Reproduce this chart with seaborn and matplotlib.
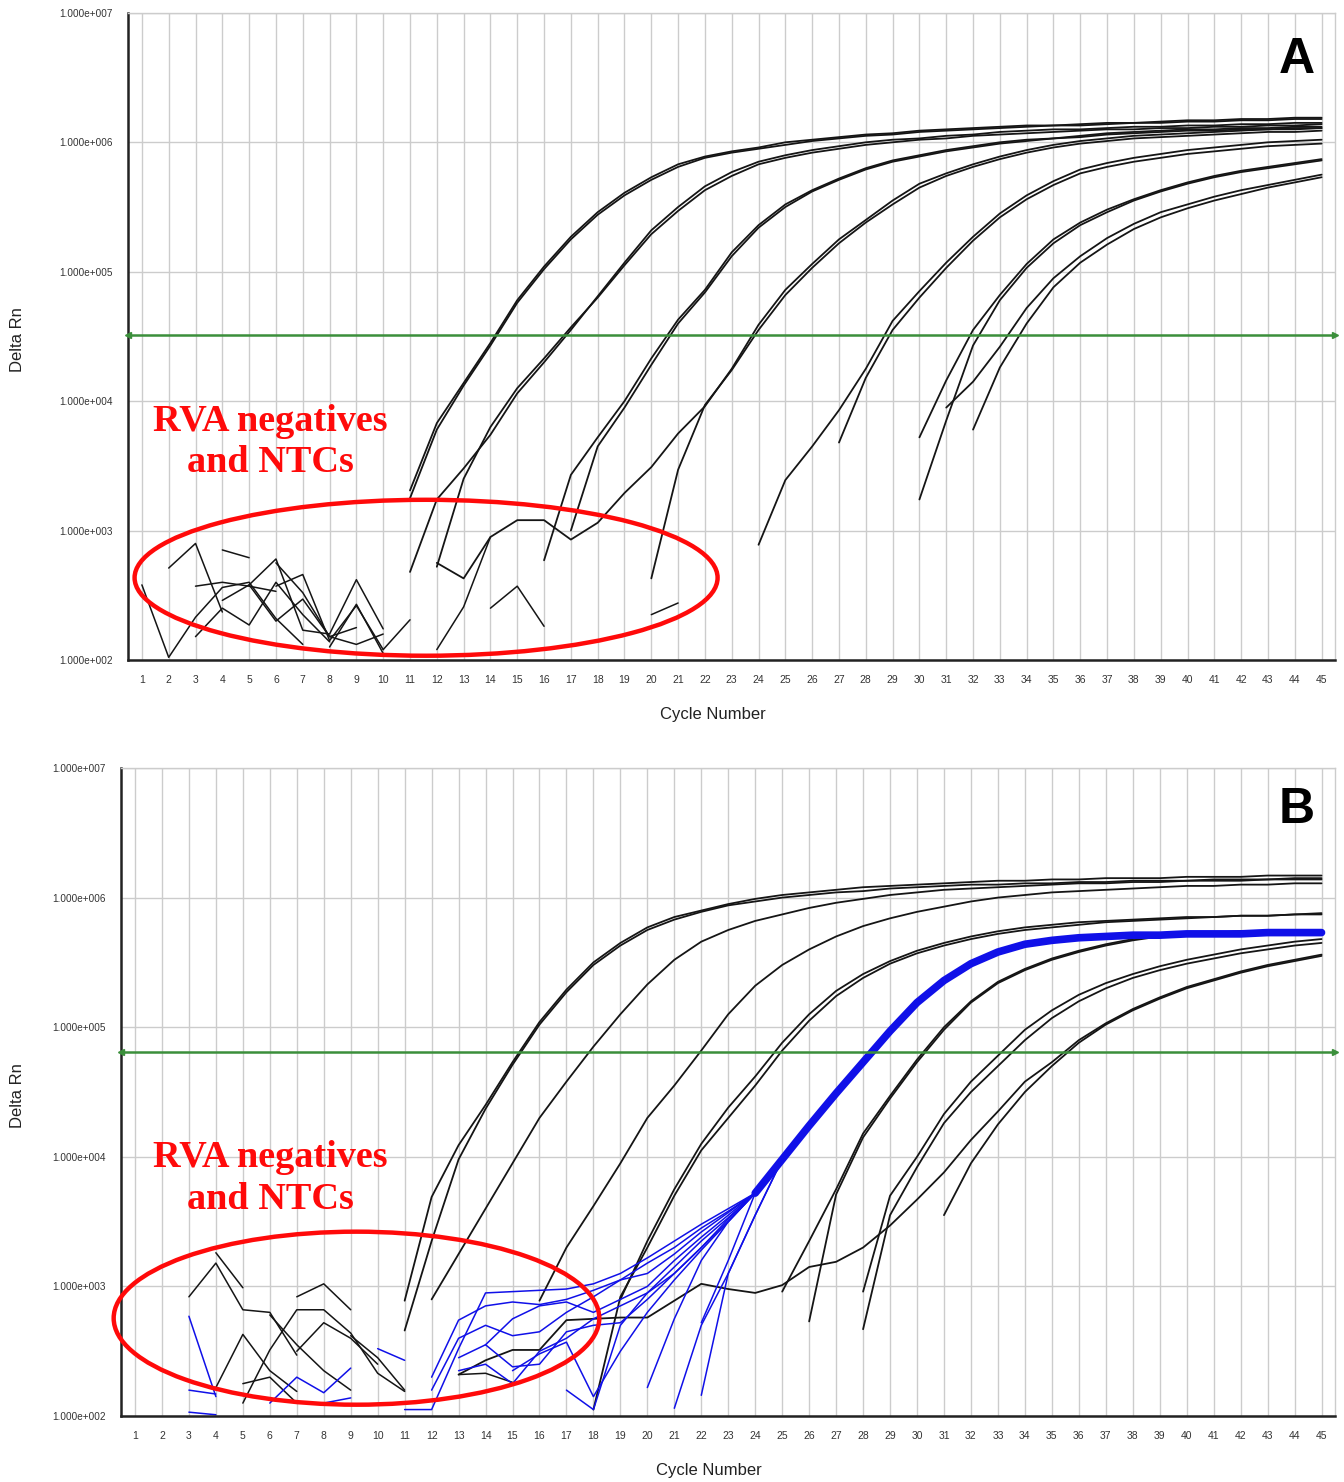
import numpy as np
import pandas as pd
import matplotlib
matplotlib.use("Agg")
import matplotlib.pyplot as plt
import seaborn as sns
from matplotlib.patches import Ellipse

# ================================
# data: log10(Delta Rn), (first cycle, values)
# ================================
cycles = list(range(1, 46))
threshold_a = 3.25e4
threshold_b = 6.4e4

# panel A - positive samples (pairs)
a_positive = {
    "a1": (11, [3.31, 3.83, 4.14, 4.45, 4.78, 5.04, 5.27, 5.46, 5.61, 5.73, 5.83, 5.89, 5.93, 5.96, 6.00,
                6.02, 6.04, 6.06, 6.07, 6.09, 6.10, 6.11, 6.12, 6.13, 6.13, 6.14, 6.15, 6.15, 6.16, 6.17,
                6.17, 6.18, 6.18, 6.19, 6.19]),
    "a2": (11, [3.25, 3.78, 4.12, 4.43, 4.76, 5.02, 5.25, 5.44, 5.59, 5.71, 5.81, 5.88, 5.92, 5.95, 5.98,
                6.01, 6.03, 6.05, 6.06, 6.08, 6.09, 6.10, 6.11, 6.12, 6.13, 6.13, 6.14, 6.15, 6.15, 6.16,
                6.16, 6.17, 6.17, 6.18, 6.18]),
    "b1": (11, [2.68, 3.24, 3.48, 3.74, 4.06, 4.30, 4.55, 4.81, 5.07, 5.32, 5.50, 5.66, 5.77, 5.85, 5.90,
                5.94, 5.97, 6.00, 6.02, 6.03, 6.05, 6.06, 6.08, 6.09, 6.10, 6.10, 6.11, 6.12, 6.12, 6.13,
                6.13, 6.14, 6.14, 6.15, 6.15]),
    "b2": (12, [2.72, 3.40, 3.80, 4.10, 4.33, 4.57, 4.80, 5.05, 5.29, 5.47, 5.63, 5.74, 5.83, 5.88, 5.92,
                5.95, 5.98, 6.00, 6.02, 6.03, 6.05, 6.06, 6.07, 6.08, 6.09, 6.10, 6.10, 6.11, 6.11, 6.12,
                6.12, 6.13, 6.13, 6.14]),
    "c1": (16, [2.77, 3.43, 3.72, 4.00, 4.33, 4.63, 4.86, 5.15, 5.36, 5.52, 5.63, 5.72, 5.80, 5.86, 5.90,
                5.94, 5.97, 6.00, 6.02, 6.03, 6.05, 6.07, 6.08, 6.09, 6.10, 6.10, 6.11, 6.11, 6.12, 6.12]),
    "c2": (17, [3.00, 3.65, 3.95, 4.28, 4.60, 4.84, 5.12, 5.34, 5.50, 5.62, 5.71, 5.79, 5.85, 5.89, 5.93,
                5.96, 5.99, 6.01, 6.03, 6.04, 6.06, 6.07, 6.08, 6.09, 6.09, 6.10, 6.10, 6.11, 6.11]),
    "d1": (12, [2.75, 2.63, 2.95, 3.08, 3.08, 2.93, 3.06, 3.29, 3.49, 3.75, 3.96, 4.25, 4.59, 4.86, 5.06,
                5.25, 5.40, 5.55, 5.68, 5.76, 5.83, 5.89, 5.94, 5.98, 6.01, 6.03, 6.05, 6.06, 6.07, 6.08,
                6.09, 6.10, 6.10, 6.11]),
    "d2": (20, [2.63, 3.47, 3.97, 4.24, 4.55, 4.82, 5.03, 5.22, 5.38, 5.52, 5.65, 5.74, 5.81, 5.87, 5.92,
                5.96, 5.99, 6.01, 6.03, 6.04, 6.05, 6.06, 6.07, 6.08, 6.08, 6.09]),
    "e1": (24, [2.89, 3.39, 3.65, 3.93, 4.25, 4.62, 4.85, 5.07, 5.27, 5.45, 5.59, 5.70, 5.79, 5.84, 5.88,
                5.91, 5.94, 5.96, 5.98, 6.00, 6.01, 6.02]),
    "e2": (27, [3.68, 4.18, 4.55, 4.80, 5.03, 5.24, 5.42, 5.56, 5.67, 5.76, 5.81, 5.85, 5.88, 5.91, 5.93,
                5.95, 5.97, 5.98, 5.99]),
    "f1": (30, [3.72, 4.16, 4.55, 4.82, 5.06, 5.25, 5.38, 5.48, 5.56, 5.63, 5.69, 5.74, 5.78, 5.81, 5.84, 5.87]),
    "f2": (30, [3.24, 3.85, 4.43, 4.78, 5.03, 5.22, 5.36, 5.46, 5.55, 5.62, 5.68, 5.73, 5.77, 5.80, 5.83, 5.86]),
    "g1": (31, [3.95, 4.15, 4.42, 4.72, 4.95, 5.12, 5.26, 5.37, 5.46, 5.52, 5.58, 5.63, 5.67, 5.71, 5.75]),
    "g2": (32, [3.78, 4.26, 4.60, 4.88, 5.07, 5.21, 5.33, 5.42, 5.49, 5.55, 5.60, 5.65, 5.69, 5.73]),
}

# panel A - RVA negatives and NTCs (noise traces)
a_noise = {
    "n1": (1, [2.58, 2.02, 2.33, 2.56, 2.60, 2.32, 2.12]),
    "n2": (2, [2.71, 2.90, 2.37]),
    "n3": (3, [2.57, 2.60, 2.57, 2.53]),
    "n4": (4, [2.85, 2.79]),
    "n5": (4, [2.46, 2.58, 2.78, 2.23, 2.20, 2.62, 2.24]),
    "n6": (3, [2.18, 2.40, 2.27, 2.60, 2.35, 2.14]),
    "n7": (5, [2.58, 2.30, 2.47, 2.18, 2.12, 2.20]),
    "n8": (6, [2.75, 2.52, 2.18, 2.25]),
    "n9": (6, [2.57, 2.66, 2.15, 2.42, 2.08]),
    "n10": (8, [2.10, 2.43, 2.05]),
    "n11": (10, [2.08, 2.31]),
    "n12": (12, [2.08, 2.41, 2.95]),
    "n13": (14, [2.40, 2.57, 2.26]),
    "n14": (20, [2.35, 2.44]),
}

# panel B - positive samples (black)
b_positive = {
    "a1": (11, [2.89, 3.69, 4.09, 4.40, 4.73, 5.04, 5.29, 5.50, 5.65, 5.77, 5.85, 5.90, 5.95, 5.99, 6.02,
                6.04, 6.06, 6.08, 6.09, 6.10, 6.11, 6.12, 6.13, 6.13, 6.14, 6.14, 6.15, 6.15, 6.15, 6.16,
                6.16, 6.16, 6.17, 6.17, 6.17]),
    "a2": (11, [2.66, 3.35, 3.98, 4.37, 4.71, 5.02, 5.27, 5.48, 5.63, 5.75, 5.83, 5.89, 5.94, 5.97, 6.00,
                6.02, 6.04, 6.05, 6.07, 6.08, 6.09, 6.10, 6.10, 6.11, 6.11, 6.12, 6.12, 6.13, 6.13, 6.13,
                6.14, 6.14, 6.14, 6.15, 6.15]),
    "b1": (12, [2.90, 3.25, 3.60, 3.95, 4.30, 4.58, 4.85, 5.10, 5.33, 5.52, 5.66, 5.75, 5.82, 5.87, 5.92,
                5.96, 5.99, 6.02, 6.04, 6.06, 6.07, 6.08, 6.09, 6.10, 6.11, 6.11, 6.12, 6.12, 6.13, 6.13,
                6.13, 6.14, 6.14, 6.14]),
    "c1": (16, [2.89, 3.30, 3.62, 3.95, 4.30, 4.55, 4.82, 5.10, 5.32, 5.48, 5.60, 5.70, 5.78, 5.84, 5.89,
                5.93, 5.97, 6.00, 6.02, 6.04, 6.05, 6.06, 6.07, 6.08, 6.09, 6.09, 6.10, 6.10, 6.11, 6.11]),
    "d1": (18, [2.05, 2.92, 3.30, 3.70, 4.05, 4.30, 4.55, 4.82, 5.05, 5.24, 5.38, 5.49, 5.57, 5.63, 5.68,
                5.72, 5.75, 5.77, 5.79, 5.81, 5.82, 5.83, 5.84, 5.85, 5.86, 5.86, 5.87, 5.87]),
    "d2": (19, [2.90, 3.35, 3.75, 4.10, 4.38, 4.62, 4.88, 5.10, 5.28, 5.41, 5.51, 5.59, 5.65, 5.70, 5.74,
                5.77, 5.79, 5.81, 5.82, 5.83, 5.84, 5.85, 5.85, 5.86, 5.86, 5.87, 5.88]),
    "e1": (25, [2.96, 3.35, 3.75, 4.18, 4.47, 4.75, 5.00, 5.20, 5.35, 5.45, 5.53, 5.59, 5.64, 5.68, 5.70,
                5.72, 5.73, 5.74, 5.74, 5.75, 5.75]),
    "e2": (26, [2.73, 3.71, 4.15, 4.45, 4.73, 4.98, 5.19, 5.34, 5.44, 5.52, 5.58, 5.63, 5.67, 5.70, 5.72,
                5.73, 5.74, 5.74, 5.75, 5.75]),
    "f1": (28, [2.96, 3.70, 4.00, 4.33, 4.58, 4.78, 4.98, 5.13, 5.25, 5.34, 5.41, 5.47, 5.52, 5.56, 5.60,
                5.63, 5.66, 5.68]),
    "f2": (28, [2.67, 3.55, 3.92, 4.26, 4.50, 4.70, 4.90, 5.07, 5.20, 5.30, 5.38, 5.44, 5.49, 5.53, 5.57,
                5.60, 5.63, 5.65]),
    "g1": (13, [2.32, 2.43, 2.51, 2.51, 2.74, 2.75, 2.76, 2.76, 2.89, 3.02, 2.98, 2.95, 3.01, 3.15, 3.19,
                3.30, 3.47, 3.67, 3.88, 4.13, 4.35, 4.58, 4.73, 4.90, 5.03, 5.14, 5.23, 5.31, 5.37, 5.43,
                5.48, 5.52, 5.56]),
    "g2": (31, [3.55, 3.95, 4.25, 4.50, 4.70, 4.88, 5.02, 5.13, 5.22, 5.30, 5.36, 5.42, 5.47, 5.51, 5.55]),
}

# panel B - negatives and NTCs (black noise)
b_noise = {
    "n1": (3, [2.92, 3.18, 2.82, 2.80, 2.47]),
    "n2": (4, [3.26, 2.99]),
    "n3": (4, [2.22, 2.63, 2.35, 2.19]),
    "n4": (5, [2.10, 2.51, 2.82, 2.82, 2.64, 2.33, 2.19]),
    "n5": (5, [2.25, 2.30, 2.10]),
    "n6": (6, [2.78, 2.55, 2.35, 2.20]),
    "n7": (7, [2.92, 3.02, 2.82]),
    "n8": (7, [2.50, 2.72, 2.60, 2.40]),
    "n9": (9, [2.62, 2.45, 2.20]),
    "n10": (13, [2.32, 2.33, 2.26]),
}

# panel B - blue samples: shared amplification bundle + individual early tails
blue_bundle = (24, [3.72, 3.98, 4.24, 4.49, 4.73, 4.97, 5.19, 5.36, 5.49, 5.58, 5.64, 5.67, 5.69, 5.70,
                    5.71, 5.71, 5.72, 5.72, 5.72, 5.73, 5.73, 5.73])
blue_tails = {
    "t1": (11, [2.05, 2.05, 2.52, 2.95, 2.96, 2.97, 2.98, 3.02, 3.10, 3.22, 3.35, 3.48, 3.60, 3.72]),
    "t2": (12, [2.30, 2.74, 2.85, 2.88, 2.86, 2.90, 2.97, 3.05, 3.18, 3.30, 3.45, 3.58, 3.72]),
    "t3": (12, [2.20, 2.60, 2.70, 2.62, 2.65, 2.80, 2.92, 3.05, 3.10, 3.25, 3.42, 3.57, 3.72]),
    "t4": (13, [2.45, 2.55, 2.75, 2.85, 2.88, 2.80, 2.90, 3.00, 3.20, 3.38, 3.55, 3.72]),
    "t5": (13, [2.35, 2.40, 2.25, 2.50, 2.60, 2.75, 2.85, 2.95, 3.15, 3.35, 3.53, 3.72]),
    "t6": (14, [2.55, 2.38, 2.40, 2.65, 2.70, 2.72, 2.90, 3.10, 3.30, 3.52, 3.72]),
    "t7": (15, [2.35, 2.48, 2.57, 2.15, 2.50, 2.80, 3.05, 3.28, 3.50, 3.72]),
    "t8": (17, [2.20, 2.05, 2.70, 2.95, 3.10, 3.30, 3.50, 3.72]),
    "t9": (20, [2.22, 2.75, 3.20, 3.50, 3.72]),
    "t10": (21, [2.06, 2.70, 3.10, 3.55, 3.98]),
    "t11": (22, [2.16, 3.10, 3.55, 3.98]),
    "t12": (22, [2.72, 3.20, 3.72]),
}
blue_noise = {
    "m1": (3, [2.77, 2.15]),
    "m2": (3, [2.20, 2.17]),
    "m3": (3, [2.03, 2.01]),
    "m4": (6, [2.10, 2.30, 2.18, 2.37]),
    "m5": (8, [2.10, 2.14]),
    "m6": (10, [2.52, 2.43]),
}


def to_frame(traces):
    rows = []
    for name, (start, logs) in traces.items():
        for k, v in enumerate(logs):
            rows.append({"curve": name, "cycle": start + k, "rn": 10 ** v})
    return pd.DataFrame(rows)


# ================================
# style
# ================================
sns.set_theme(style="white")
plt.rcParams["font.family"] = ["Liberation Sans", "DejaVu Sans"]

fig = plt.figure(figsize=(13.44, 14.82), dpi=100)
ax_a = fig.add_axes([0.0952, 0.5547, 0.8981, 0.4366])
ax_b = fig.add_axes([0.0900, 0.0445, 0.9033, 0.4373])

BLACK = "#151515"
BLUE = "#1010e8"
GREEN = "#3b8f3b"
RED = "#ff0a0a"


def draw(ax, traces, color, lw):
    df = to_frame(traces)
    sns.lineplot(data=df, x="cycle", y="rn", units="curve", estimator=None,
                 color=color, lw=lw, ax=ax, legend=False)


def style_axes(ax, thr, ylab_x, xlab_x):
    ax.set_yscale("log")
    ax.set_xlim(0.48, 45.5)
    ax.set_ylim(1e2, 1e7)
    ax.set_xticks(cycles)
    ax.set_xticklabels([str(c) for c in cycles], fontsize=7.5, color="#333333")
    decades = [1e2, 1e3, 1e4, 1e5, 1e6, 1e7]
    ax.set_yticks(decades)
    ax.set_yticklabels([f"1.000e+{int(np.log10(d)):03d}" for d in decades], fontsize=7.2, color="#333333")
    ax.yaxis.set_minor_locator(matplotlib.ticker.NullLocator())
    ax.tick_params(axis="both", length=0)
    ax.tick_params(axis="x", pad=11)
    ax.tick_params(axis="y", pad=11)
    ax.grid(True, which="major", color="#cccccc", lw=1.0)
    ax.set_axisbelow(True)
    for s in ["top", "right"]:
        ax.spines[s].set_color("#cccccc")
        ax.spines[s].set_linewidth(1.0)
    for s in ["left", "bottom"]:
        ax.spines[s].set_color("#222222")
        ax.spines[s].set_linewidth(1.8)
    ax.set_xlabel("Cycle Number", fontsize=12, color="#222222")
    ax.set_ylabel("Delta Rn", fontsize=12, color="#222222")
    ax.xaxis.set_label_coords(xlab_x, -0.0725)
    ax.yaxis.set_label_coords(ylab_x, 0.495)
    ax.axhline(thr, color=GREEN, lw=1.8, zorder=4)
    ax.plot([1.0], [thr], transform=ax.get_yaxis_transform(), ls="none",
            marker=">", ms=5, color=GREEN, clip_on=False, zorder=4)
    ax.plot([0.0], [thr], transform=ax.get_yaxis_transform(), ls="none",
            marker="<", ms=5, color=GREEN, clip_on=False, zorder=4)


def annotate(ax, ell, txt_xy, letter, letter_xy):
    ax.add_patch(Ellipse(ell[:2], ell[2], ell[3], transform=ax.transAxes,
                         fill=False, ec=RED, lw=3.2, zorder=5, clip_on=False))
    ax.text(txt_xy[0], txt_xy[1], "RVA negatives\nand NTCs", transform=ax.transAxes,
            ha="center", va="center", color=RED, fontsize=27.5, fontweight="bold",
            family=["Liberation Serif", "DejaVu Serif"], linespacing=1.25, zorder=6)
    ax.text(letter_xy[0], letter_xy[1], letter, transform=ax.transAxes, ha="center", va="center",
            fontsize=36, fontweight="bold", color="black")


# ---- panel A
draw(ax_a, a_noise, BLACK, 1.1)
draw(ax_a, a_positive, BLACK, 1.3)
style_axes(ax_a, threshold_a, -0.0853, 0.4847)
annotate(ax_a, (0.247, 0.127, 0.483, 0.241), (0.1176, 0.337), "A", (0.9685, 0.927))

# ---- panel B
draw(ax_b, b_noise, BLACK, 1.1)
draw(ax_b, blue_noise, BLUE, 1.1)
draw(ax_b, b_positive, BLACK, 1.3)
draw(ax_b, blue_tails, BLUE, 1.1)
draw(ax_b, {"bundle": blue_bundle}, BLUE, 5.5)
style_axes(ax_b, threshold_b, -0.0791, 0.4843)
annotate(ax_b, (0.194, 0.151, 0.400, 0.267), (0.1227, 0.366), "B", (0.9687, 0.935))

fig.savefig("out.png", dpi=100)
